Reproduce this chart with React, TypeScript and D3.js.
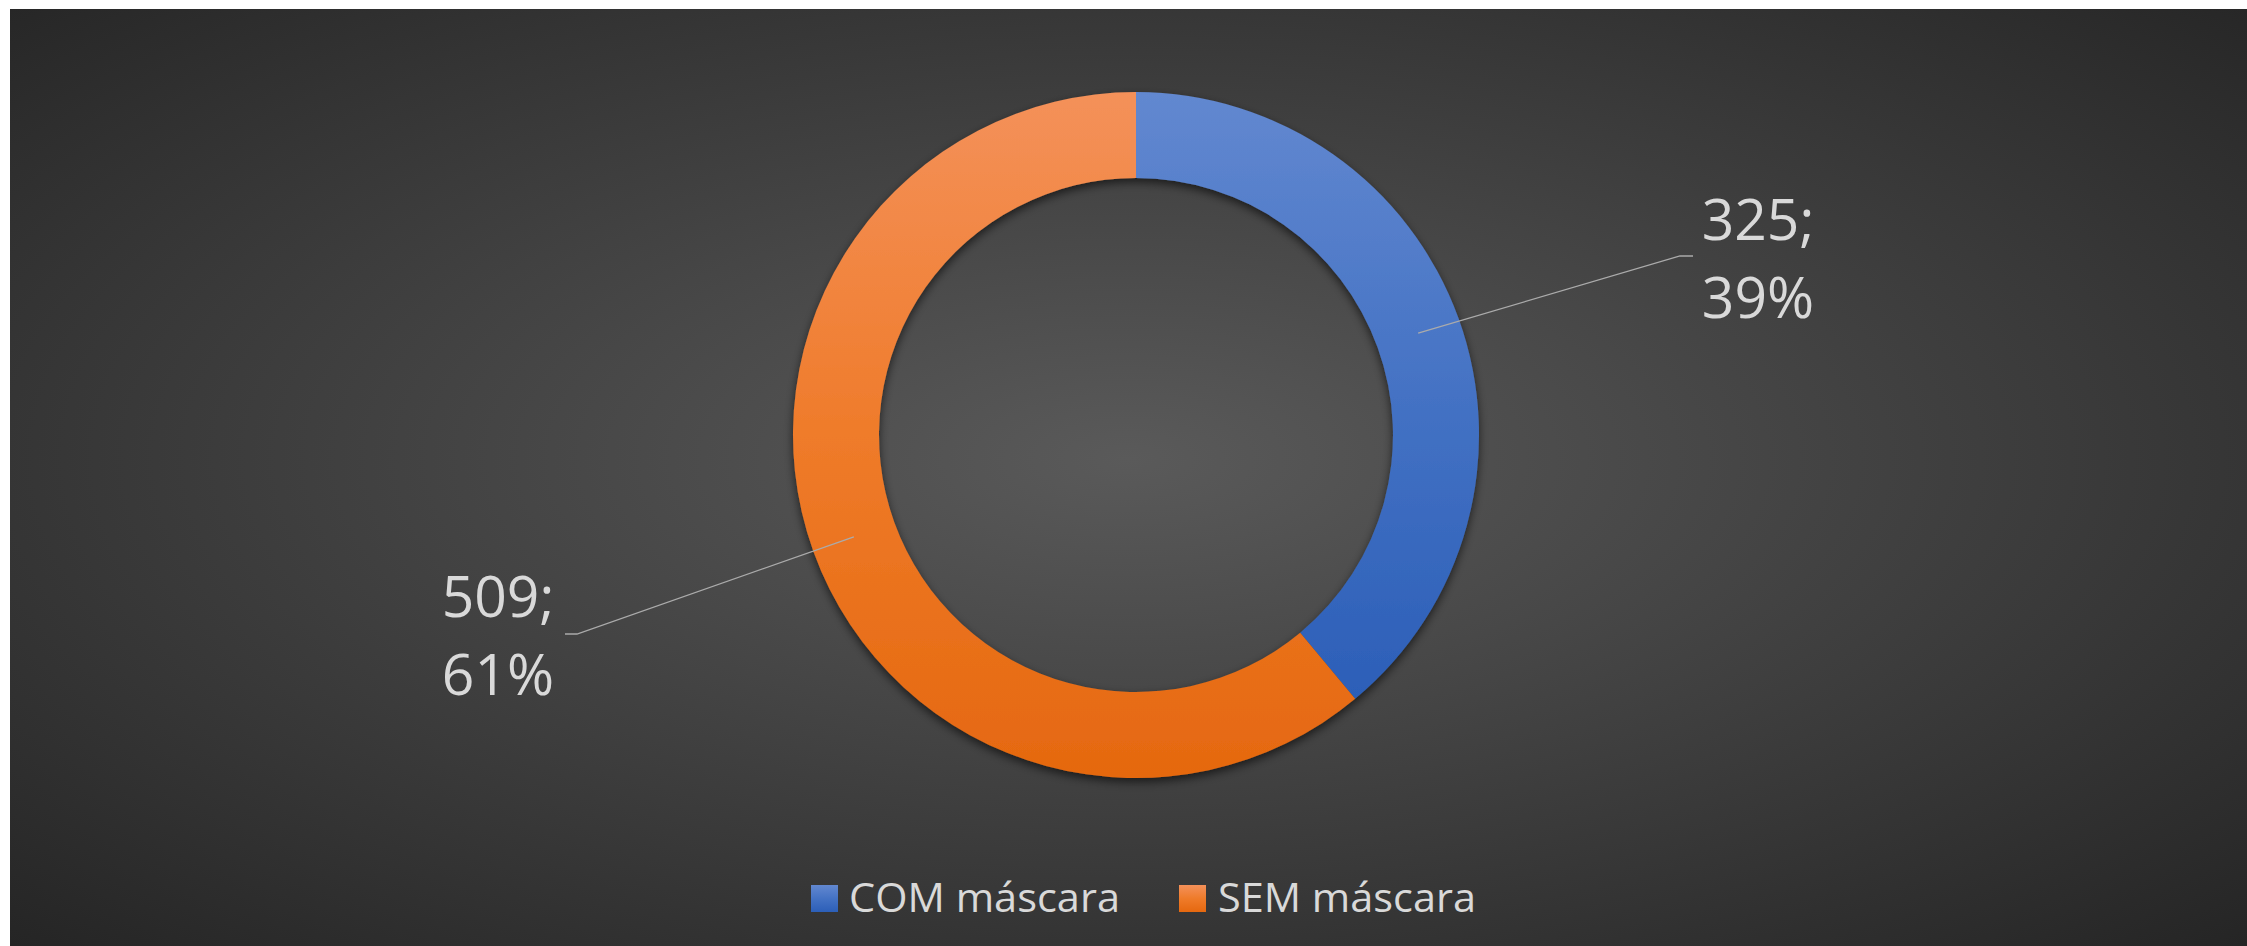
import React from "react";
import * as d3 from "d3";

const categories = ["COM máscara", "SEM máscara"];
const values = [325, 509];

const W = 2247;
const H = 946;
const CX = 1136;
const CY = 435;
const R_OUT = 343;
const R_IN = 257;

const gradStops: Record<string, string[]> = {
  "COM máscara": ["#6288d0", "#4472c4", "#2c5fb8"],
  "SEM máscara": ["#f4915a", "#ef7b2a", "#e5680f"],
};
const colors: Record<string, string> = {
  "COM máscara": "url(#g0)",
  "SEM máscara": "url(#g1)",
};

// label layout (page coordinates)
const labelLayout = [
  { cx: 1758, y: 240, elbow: [1680, 256], end: [1693, 256] },
  { cx: 498, y: 617, elbow: [577, 634], end: [565, 634] },
];

const legendLayout = [
  { sx: 811, tx: 849, len: 271 },
  { sx: 1179, tx: 1218, len: 258 },
];

export default function App() {
  const total = d3.sum(values);
  const pie = d3
    .pie<number>()
    .sort(null)
    .startAngle(0)
    .endAngle(2 * Math.PI)
    .value((d) => d);
  const arcs = pie(values);
  const arc = d3.arc<d3.PieArcDatum<number>>().innerRadius(R_IN).outerRadius(R_OUT);
  const pct = d3.format(".0%");
  const font = "'Open Sans', 'Noto Sans', sans-serif";

  return (
    <svg
      width={W}
      height={H}
      style={{ position: "absolute", left: 0, top: 0, display: "block" }}
    >
      <defs>
        <radialGradient id="bg" cx="0.5" cy="0.48" r="0.72">
          <stop offset="0" stopColor="#5a5a5a" />
          <stop offset="1" stopColor="#252525" />
        </radialGradient>
        {categories.map((c, i) => (
          <linearGradient key={c} id={`g${i}`} x1="0" y1="0" x2="0" y2="1">
            <stop offset="0" stopColor={gradStops[c][0]} />
            <stop offset="0.5" stopColor={gradStops[c][1]} />
            <stop offset="1" stopColor={gradStops[c][2]} />
          </linearGradient>
        ))}
        <filter id="sh" x="-20%" y="-20%" width="140%" height="140%">
          <feDropShadow dx="0" dy="4" stdDeviation="5" floodColor="#000" floodOpacity="0.6" />
        </filter>
      </defs>
      <rect x={0} y={0} width={W} height={H} fill="#ffffff" />
      <rect x={10} y={9} width={W - 10} height={H - 9} fill="url(#bg)" />

      <g transform={`translate(${CX},${CY})`} filter="url(#sh)">
        {arcs.map((a, i) => (
          <path key={categories[i]} d={arc(a) || ""} fill={colors[categories[i]]} />
        ))}
      </g>

      {arcs.map((a, i) => {
        const [px, py] = arc.centroid(a);
        const L = labelLayout[i];
        return (
          <g key={"lab" + i}>
            <polyline
              points={`${CX + px},${CY + py} ${L.elbow[0]},${L.elbow[1]} ${L.end[0]},${L.end[1]}`}
              fill="none"
              stroke="#ababab"
              strokeWidth={1.3}
            />
            <text
              x={L.cx}
              y={L.y}
              textAnchor="middle"
              fontFamily={font}
              fontSize={57}
              fill="#d9d9d9"
            >
              {`${values[i]};`}
            </text>
            <text
              x={L.cx}
              y={L.y + 78}
              textAnchor="middle"
              fontFamily={font}
              fontSize={57}
              fill="#d9d9d9"
            >
              {pct(values[i] / total)}
            </text>
          </g>
        );
      })}

      {categories.map((c, i) => {
        const L = legendLayout[i];
        return (
          <g key={"leg" + c}>
            <rect x={L.sx} y={885} width={27} height={27} fill={colors[c]} />
            <text
              x={L.tx}
              y={911.5}
              fontFamily={font}
              fontSize={41}
              fill="#d9d9d9"
              textLength={L.len}
              lengthAdjust="spacingAndGlyphs"
            >
              {c}
            </text>
          </g>
        );
      })}
    </svg>
  );
}
